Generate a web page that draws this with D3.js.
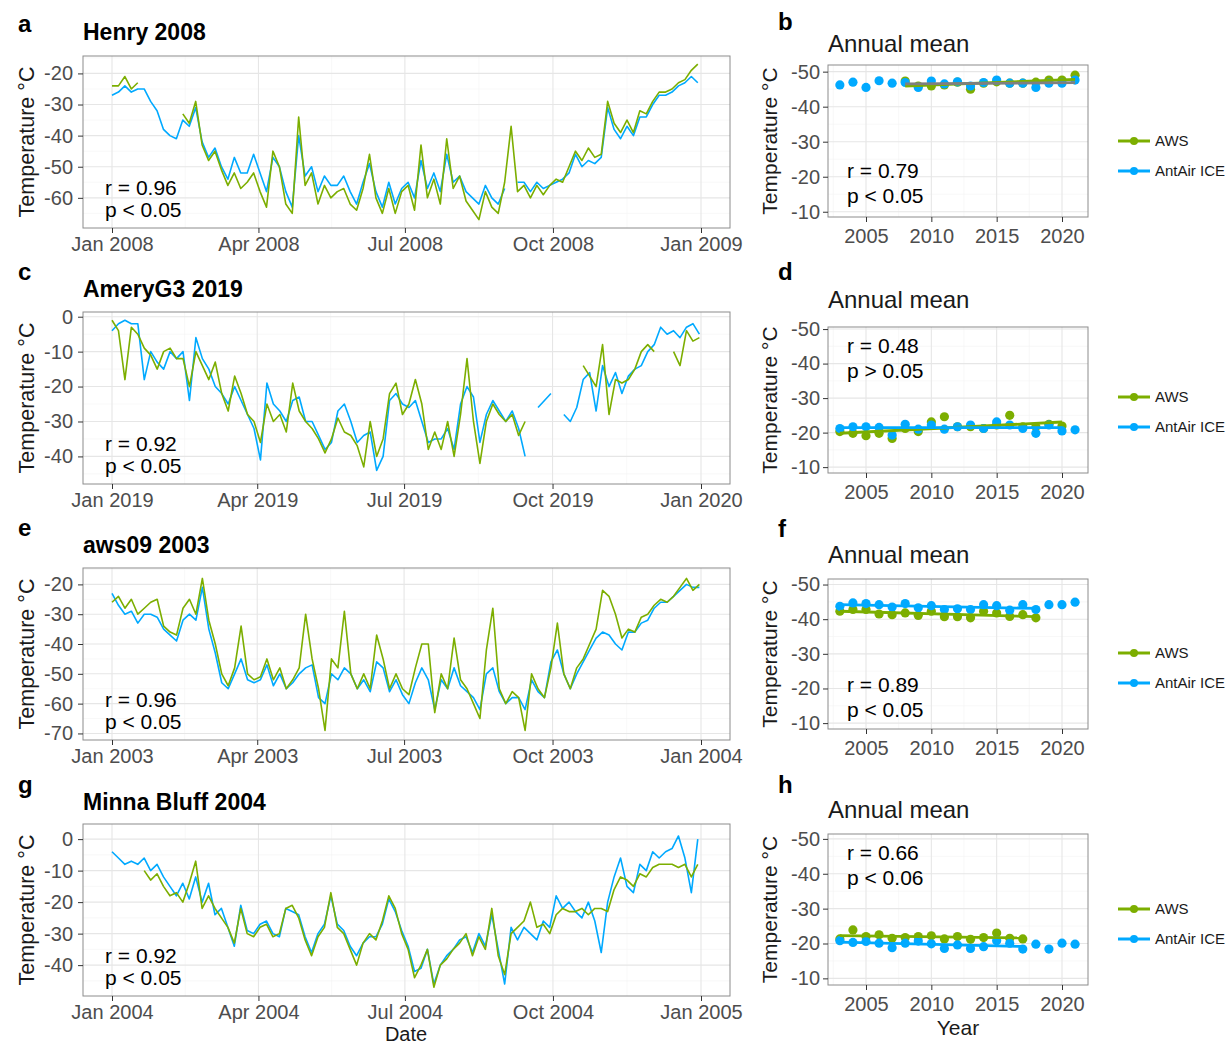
<!DOCTYPE html>
<html>
<head>
<meta charset="utf-8">
<script src="https://cdn.jsdelivr.net/npm/d3@7"></script>
<style>
body { margin: 0; background: #fff; }
text { font-family: "Liberation Sans", Arial, sans-serif; }
</style>
</head>
<body>
<script>
var width = 1229,
    height = 1046,
    green = "#7cae00",
    blue = "#00a9ff";

var step = 4;

var henryAws = [-24,-24,-21,-25,-23,null,null,null,null,null,null,-33,-36,-29,-43,-48,-45,-51,-56,-52,
  -57,-55,-52,-58,-63,-45,-50,-62,-65,-34,-56,-52,-62,-56,-60,-58,-57,-62,-64,-57,
  -46,-60,-65,-57,-65,-58,-56,-64,-43,-60,-54,-62,-41,-57,-53,-61,-64,-67,-58,-63,
  -65,-55,-37,-58,-56,-60,-56,-59,-56,-54,-55,-50,-45,-48,-44,-47,-46,-29,-36,-39,
  -35,-39,-32,-33,-29,-26,-26,-25,-23,-22,-19,-17];
var henryIce = [-27,-26,-24,-26,-25,-25,-29,-32,-38,-40,-41,-35,-37,-31,-42,-47,-44,-50,-54,-47,
  -52,-52,-46,-52,-58,-47,-50,-58,-63,-40,-53,-50,-58,-53,-56,-56,-53,-58,-62,-55,
  -49,-58,-63,-55,-62,-57,-55,-60,-48,-57,-52,-58,-46,-55,-53,-58,-60,-62,-56,-60,
  -62,-57,null,-55,-55,-58,-55,-57,-56,-55,-54,-52,-46,-50,-48,-49,-47,-31,-38,-41,
  -37,-40,-34,-34,-30,-27,-27,-26,-24,-23,-21,-23];

var ameryAws = [-1,-4,-18,-3,-5,-9,-11,-15,-10,-9,-12,-12,-20,-10,-14,-18,-13,-22,-27,-17,
  -22,-28,-30,-36,-25,-30,-28,-33,-19,-27,-30,-32,-35,-39,-35,-29,-33,-34,-37,-43,
  -30,-40,-35,-22,-19,-28,-25,-18,-25,-38,-33,-38,-30,-40,-28,-12,-30,-42,-30,-25,
  -28,-30,-28,-34,-30,null,null,null,null,null,null,null,null,-14,-17,-20,-8,-28,-18,-19,
  -18,-15,-10,-8,-10,null,null,-10,-14,-4,-7,-6];
var ameryIce = [-4,-2,-1,-2,-2,-18,-10,-13,-15,-10,-12,-10,-24,-6,-12,-15,-20,-22,-25,-20,
  -24,-28,-32,-41,-19,-25,-27,-30,-24,-23,-30,-30,-34,-38,-36,-27,-25,-30,-36,-34,
  -33,-44,-40,-24,-22,-25,-26,-24,-30,-36,-35,-35,-32,-38,-25,-20,-23,-36,-28,-24,
  -27,-30,-27,-32,-40,null,-26,-24,-22,null,-28,-30,-26,-18,-16,-27,-14,-20,-16,-22,
  -17,-15,-14,-10,-8,-3,-5,-4,-6,-3,-2,-5];

var aws09Aws = [-26,-24,-28,-25,-30,-28,-26,-25,-34,-36,-37,-28,-25,-30,-18,-32,-40,-50,-54,-48,
  -34,-50,-52,-51,-45,-52,-48,-55,-52,-48,-30,-45,-55,-69,-45,-48,-29,-50,-55,-50,
  -55,-37,-45,-55,-50,-55,-57,-48,-40,-40,-63,-50,-55,-38,-52,-55,-60,-65,-42,-28,
  -55,-60,-56,-58,-69,-50,-55,-58,-48,-33,-50,-55,-48,-45,-40,-35,-22,-24,-30,-38,
  -35,-36,-31,-30,-27,-25,-26,-24,-21,-18,-22,-20];
var aws09Ice = [-23,-27,-30,-29,-33,-30,-30,-31,-35,-37,-39,-32,-30,-32,-21,-35,-43,-53,-55,-50,
  -45,-52,-53,-52,-47,-54,-50,-55,-53,-50,-48,-47,-58,-60,-50,-52,-48,-50,-55,-52,
  -56,-46,-48,-56,-52,-57,-60,-53,-48,-52,-62,-52,-55,-48,-54,-56,-58,-62,-50,-48,
  -56,-60,-58,-58,-62,-52,-56,-58,-46,-42,-50,-55,-50,-46,-42,-38,-36,-37,-40,-42,
  -36,-36,-33,-32,-28,-26,-26,-24,-22,-20,-21,-21];

var minnaAws = [null,null,null,null,null,-10,-13,-11,-15,-18,-17,-20,-14,-7,-22,-18,-22,-25,-28,-33,
  -22,-30,-31,-28,-27,-31,-30,-22,-21,-25,-32,-37,-31,-28,-17,-28,-30,-35,-40,-33,
  -30,-32,-26,-18,-22,-30,-35,-44,-40,-35,-47,-40,-38,-35,-33,-30,-37,-31,-35,-22,
  -37,-43,-30,-28,-26,-20,-28,-27,-30,-24,-22,-23,-23,-22,-24,-22,-22,-23,-16,-12,
  -13,-15,-11,-12,-9,-8,-8,-8,-9,-8,-12,-8];
var minnaIce = [-4,-6,-8,-7,-8,-6,-10,-8,-12,-15,-18,-14,-19,-12,-20,-14,-24,-22,-28,-34,
  -21,-29,-30,-27,-26,-30,-31,-22,-23,-24,-31,-36,-30,-27,-18,-27,-29,-34,-37,-33,
  -31,-31,-27,-19,-23,-29,-34,-42,-41,-35,-46,-40,-37,-35,-32,-31,-36,-30,-34,-24,
  -35,-46,-28,-32,-28,-30,-32,-26,-28,-18,-22,-20,-23,-25,-20,-26,-36,-20,-12,-6,
  -15,-17,-8,-10,-4,-6,-4,-3,1,-6,-17,0];

// annual means
var years = [2003,2004,2005,2006,2007,2008,2009,2010,2011,2012,2013,2014,2015,2016,2017,2018,2019,2020,2021];
var henryYearAws = [null,null,null,null,null,-47.3,-45.9,-45.9,-46.2,-47.0,-45.0,-46.7,-47.1,-46.7,-46.7,-47.0,-47.6,-47.6,-49.0];
var henryYearIce = [-46.2,-47.0,-45.5,-47.4,-46.7,-46.9,-45.5,-47.3,-46.5,-47.1,-45.9,-46.9,-47.6,-46.7,-46.7,-45.5,-46.7,-46.7,-47.6];
var ameryYearAws = [-20.3,-19.8,-19.1,-19.8,-18.3,-21.2,-20.3,-23.1,-24.6,-21.7,-21.7,-21.2,-22.2,-25.0,-21.7,-21.7,-22.4,-21.9,null];
var ameryYearIce = [-21.2,-21.7,-21.7,-21.5,-19.3,-22.4,-21.0,-22.2,-21.0,-21.7,-22.2,-21.2,-23.1,-22.2,-21.2,-19.8,-22.2,-20.5,-20.8];
var aws09YearAws = [-42.3,-42.8,-42.8,-41.5,-41.3,-41.8,-41.1,-42.3,-40.7,-40.7,-40.4,-42.3,-41.8,-40.8,-41.3,-40.4,null,null,null];
var aws09YearIce = [-43.7,-44.7,-44.5,-44.2,-43.5,-44.5,-43.3,-43.9,-42.8,-43.0,-42.8,-44.2,-43.9,-42.6,-44.2,-42.8,-44.2,-44.2,-44.9];
var minnaYearAws = [-21.3,-23.9,-22.0,-22.5,-21.5,-21.7,-22.0,-22.2,-21.3,-22.0,-21.2,-21.7,-23.0,-21.5,-21.3,null,null,null,null];
var minnaYearIce = [-20.8,-20.3,-20.6,-20.1,-18.8,-20.1,-20.7,-19.9,-18.6,-19.6,-18.6,-19.1,-20.8,-20.1,-18.4,-19.8,-18.4,-20.1,-19.8];

var titles = ["Henry 2008", "AmeryG3 2019", "aws09 2003", "Minna Bluff 2004"];
var startYears = [2008, 2019, 2003, 2004];
var dailyTicks = [[-20,-30,-40,-50,-60], [0,-10,-20,-30,-40], [-20,-30,-40,-50,-60,-70], [0,-10,-20,-30,-40]];
var annualTicks = [-50, -40, -30, -20, -10];
var yearTicks = [2005, 2010, 2015, 2020];
var dailyR = ["r = 0.96", "r = 0.92", "r = 0.96", "r = 0.92"];
var dailyP = ["p < 0.05", "p < 0.05", "p < 0.05", "p < 0.05"];
var annualR = ["r = 0.79", "r = 0.48", "r = 0.89", "r = 0.66"];
var annualP = ["p < 0.05", "p > 0.05", "p < 0.05", "p < 0.06"];
var seriesNames = ["AWS", "AntAir ICE"];

var dailyAws = [henryAws, ameryAws, aws09Aws, minnaAws],
    dailyIce = [henryIce, ameryIce, aws09Ice, minnaIce],
    yearAws = [henryYearAws, ameryYearAws, aws09YearAws, minnaYearAws],
    yearIce = [henryYearIce, ameryYearIce, aws09YearIce, minnaYearIce];

var leftTop = [56, 312, 568, 824],
    leftH = 172,
    leftL = 83, leftR = 730,
    leftDomains = [[-69.7, -14.4], [-47.9, 1.35], [-72.2, -14.5], [-49.8, 4.8]],
    rightTop = [65, 327, 579, 834],
    rightBottom = [217, 473, 729, 985],
    rightL = 828, rightR = 1088,
    rightDomains = [[-51.9, -8.5], [-50.6, -8.3], [-51.6, -8.3], [-51.4, -8.1]],
    leftLetterY = [32, 280, 536, 793],
    rightLetterY = [30, 280, 537, 793],
    titleY = [40, 297, 553, 810],
    annualTitleY = [52, 308, 563, 818],
    annualTextTop = [false, true, false, true],
    iceTrendColours = ["#7f7f7f", blue, blue, blue];

var svg = d3.select("body").append("svg")
    .attr("width", width)
    .attr("height", height)
    .style("background", "#fff");

function styleAxis(sel, size) {
    sel.select(".domain").remove();
    sel.attr("font-family", null).attr("font-size", null);
    sel.selectAll(".tick line").attr("stroke", "#333").attr("stroke-width", 1);
    sel.selectAll(".tick text")
        .attr("fill", "#4d4d4d")
        .style("font-size", size + "px");
}

function midpoints(ticks, lo, hi) {
    var s = ticks.slice().sort(d3.ascending);
    var d = s[1] - s[0];
    var ext = [s[0] - d].concat(s, [s[s.length - 1] + d]);
    return d3.pairs(ext).map(function(p) { return (p[0] + p[1]) / 2; })
        .filter(function(v) { return v > lo && v < hi; });
}

function grid(g, xs, ys, x0, x1, y0, y1, colour, w) {
    g.selectAll(null).data(xs).enter().append("line")
        .attr("x1", function(d) { return d; }).attr("x2", function(d) { return d; })
        .attr("y1", y0).attr("y2", y1)
        .attr("stroke", colour).attr("stroke-width", w);
    g.selectAll(null).data(ys).enter().append("line")
        .attr("y1", function(d) { return d; }).attr("y2", function(d) { return d; })
        .attr("x1", x0).attr("x2", x1)
        .attr("stroke", colour).attr("stroke-width", w);
}

function dailyPanel(k) {
    var top = leftTop[k], bottom = top + leftH, yr = startYears[k];
    var x = d3.scaleUtc()
        .domain([new Date(Date.UTC(yr, 0, 1)), new Date(Date.UTC(yr + 1, 0, 1))])
        .range([112, 701]);
    var y = d3.scaleLinear().domain(leftDomains[k]).range([bottom, top]);
    var g = svg.append("g");

    var majors = [0, 3, 6, 9, 12].map(function(m) { return new Date(Date.UTC(yr, m, 1)); });
    var minors = d3.pairs(majors).map(function(p) { return new Date((+p[0] + +p[1]) / 2); });
    var dom = leftDomains[k];

    grid(g, minors.map(x), midpoints(dailyTicks[k], dom[0], dom[1]).map(y),
        leftL, leftR, top, bottom, "#f3f3f3", 0.6);
    grid(g, majors.map(x), dailyTicks[k].map(y), leftL, leftR, top, bottom, "#e6e6e6", 1.1);

    var day = function(i) { return new Date(Date.UTC(yr, 0, 1 + i * step)); };
    var line = d3.line()
        .defined(function(d) { return d != null; })
        .x(function(d, i) { return x(day(i)); })
        .y(function(d) { return y(d); });

    g.append("path").datum(dailyIce[k]).attr("d", line)
        .attr("fill", "none").attr("stroke", blue).attr("stroke-width", 1.6)
        .attr("stroke-linejoin", "round");
    g.append("path").datum(dailyAws[k]).attr("d", line)
        .attr("fill", "none").attr("stroke", green).attr("stroke-width", 1.6)
        .attr("stroke-linejoin", "round");

    g.append("rect")
        .attr("x", leftL).attr("y", top)
        .attr("width", leftR - leftL).attr("height", leftH)
        .attr("fill", "none").attr("stroke", "#8c8c8c").attr("stroke-width", 1);

    g.append("g").attr("transform", "translate(0," + bottom + ")")
        .call(d3.axisBottom(x).tickValues(majors).tickFormat(d3.utcFormat("%b %Y"))
            .tickSize(5).tickPadding(4).tickSizeOuter(0))
        .call(styleAxis, 20);
    g.append("g").attr("transform", "translate(" + leftL + ",0)")
        .call(d3.axisLeft(y).tickValues(dailyTicks[k]).tickFormat(String)
            .tickSize(5).tickPadding(5).tickSizeOuter(0))
        .call(styleAxis, 20);

    g.append("text").attr("transform", "translate(34," + (top + leftH / 2) + ") rotate(-90)")
        .attr("text-anchor", "middle").attr("fill", "#1a1a1a")
        .style("font-size", "21.5px").text("Temperature \u00b0C");

    g.append("text").attr("x", 105).attr("y", top + 139)
        .style("font-size", "21px").text(dailyR[k]);
    g.append("text").attr("x", 105).attr("y", top + 161)
        .style("font-size", "21px").text(dailyP[k]);

    svg.append("text").attr("x", 18).attr("y", leftLetterY[k])
        .style("font-size", "24px").style("font-weight", "bold").text("aceg"[k]);
    svg.append("text").attr("x", leftL).attr("y", titleY[k])
        .style("font-size", "23px").style("font-weight", "bold").text(titles[k]);
}

function fit(xs, ys) {
    var mx = d3.mean(xs), my = d3.mean(ys);
    var b = d3.sum(xs, function(v, i) { return (v - mx) * (ys[i] - my); }) /
            d3.sum(xs, function(v) { return (v - mx) * (v - mx); });
    return function(v) { return my + b * (v - mx); };
}

function annualPanel(k) {
    var top = rightTop[k], bottom = rightBottom[k];
    var x = d3.scaleLinear().domain([2005, 2020]).range([866, 1062]);
    var y = d3.scaleLinear().domain(rightDomains[k]).range([top, bottom]);
    var g = svg.append("g");
    var dom = rightDomains[k];

    var xMinor = midpoints(yearTicks, 2002, 2022).map(x).filter(function(v) { return v > rightL && v < rightR; });
    grid(g, xMinor, midpoints(annualTicks, dom[0], dom[1]).map(y), rightL, rightR, top, bottom, "#f3f3f3", 0.6);
    grid(g, yearTicks.map(x), annualTicks.map(y), rightL, rightR, top, bottom, "#e6e6e6", 1.1);

    var aws = yearAws[k], ice = yearIce[k];
    var pts = function(vals, colour) {
        g.selectAll(null).data(years.filter(function(yv, i) { return vals[i] != null; }))
            .enter().append("circle")
            .attr("cx", function(d) { return x(d); })
            .attr("cy", function(d) { return y(vals[years.indexOf(d)]); })
            .attr("r", 4.6).attr("fill", colour);
    };
    pts(aws, green);
    pts(ice, blue);

    // linear trends over the years both series share
    var both = years.filter(function(yv, i) { return aws[i] != null && ice[i] != null; });
    var ext = d3.extent(both);
    [[aws, green], [ice, iceTrendColours[k]]].forEach(function(s) {
        var f = fit(both, both.map(function(yv) { return s[0][years.indexOf(yv)]; }));
        g.append("line")
            .attr("x1", x(ext[0])).attr("x2", x(ext[1]))
            .attr("y1", y(f(ext[0]))).attr("y2", y(f(ext[1])))
            .attr("stroke", s[1]).attr("stroke-width", 2.8);
    });

    g.append("rect")
        .attr("x", rightL).attr("y", top)
        .attr("width", rightR - rightL).attr("height", bottom - top)
        .attr("fill", "none").attr("stroke", "#8c8c8c").attr("stroke-width", 1);

    g.append("g").attr("transform", "translate(0," + bottom + ")")
        .call(d3.axisBottom(x).tickValues(yearTicks).tickFormat(d3.format("d"))
            .tickSize(5).tickPadding(7).tickSizeOuter(0))
        .call(styleAxis, 20);
    g.append("g").attr("transform", "translate(" + rightL + ",0)")
        .call(d3.axisLeft(y).tickValues(annualTicks).tickFormat(String)
            .tickSize(5).tickPadding(3).tickSizeOuter(0))
        .call(styleAxis, 20);

    g.append("text").attr("transform", "translate(777," + ((top + bottom) / 2) + ") rotate(-90)")
        .attr("text-anchor", "middle").attr("fill", "#1a1a1a")
        .style("font-size", "21px").text("Temperature \u00b0C");

    var ty = annualTextTop[k] ? top + 26 : top + 113;
    g.append("text").attr("x", 847).attr("y", ty).style("font-size", "21px").text(annualR[k]);
    g.append("text").attr("x", 847).attr("y", ty + 25).style("font-size", "21px").text(annualP[k]);

    svg.append("text").attr("x", 778).attr("y", rightLetterY[k])
        .style("font-size", "24px").style("font-weight", "bold").text("bdfh"[k]);
    svg.append("text").attr("x", rightL).attr("y", annualTitleY[k])
        .attr("fill", "#1a1a1a").style("font-size", "24px").text("Annual mean");

    // legend
    var ly = 141 + 256 * k;
    [green, blue].forEach(function(c, i) {
        var yy = ly + 30 * i;
        g.append("line").attr("x1", 1118).attr("x2", 1150).attr("y1", yy).attr("y2", yy)
            .attr("stroke", c).attr("stroke-width", 3);
        g.append("circle").attr("cx", 1134).attr("cy", yy).attr("r", 4).attr("fill", c);
        g.append("text").attr("x", 1155).attr("y", yy + 5).attr("fill", "#1a1a1a")
            .style("font-size", "15px").text(seriesNames[i]);
    });
}

d3.range(4).forEach(function(k) {
    dailyPanel(k);
    annualPanel(k);
});

svg.append("text").attr("x", 406).attr("y", 1041).attr("text-anchor", "middle")
    .attr("fill", "#1a1a1a").style("font-size", "20px").text("Date");
svg.append("text").attr("x", 958).attr("y", 1035).attr("text-anchor", "middle")
    .attr("fill", "#1a1a1a").style("font-size", "21px").text("Year");
</script>
</body>
</html>
